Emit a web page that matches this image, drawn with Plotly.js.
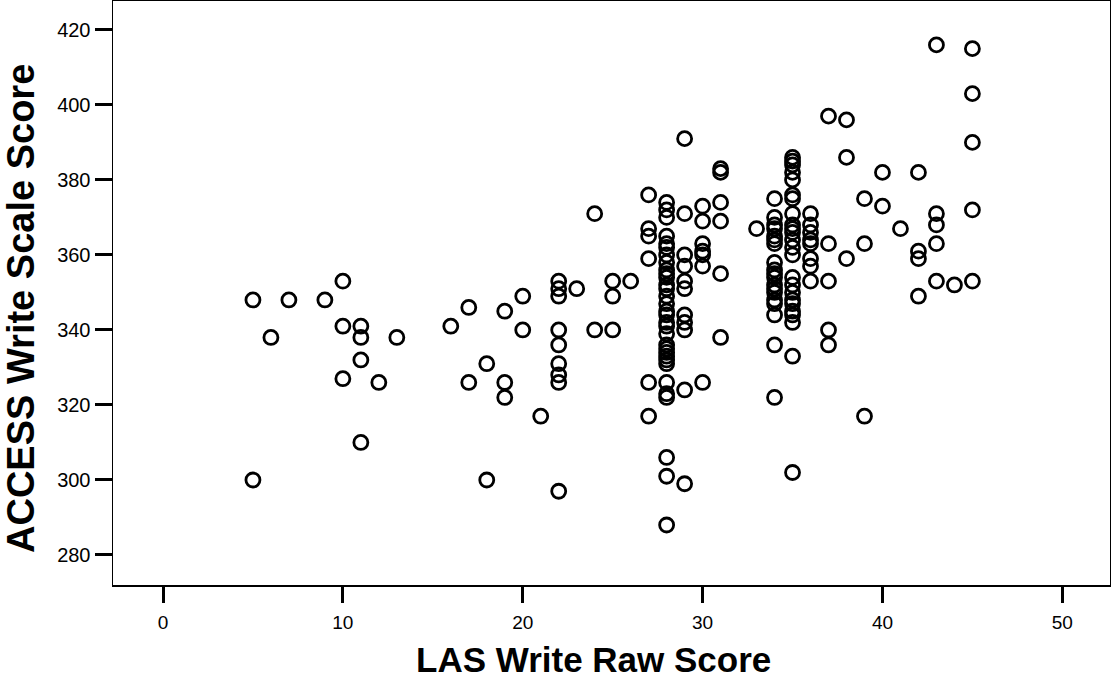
<!DOCTYPE html>
<html>
<head>
<meta charset="utf-8">
<script src="https://cdn.plot.ly/plotly-3.0.1.min.js"></script>
<style>
  html, body { margin: 0; padding: 0; background: #ffffff; }
  #chart { width: 1111px; height: 681px; }
</style>
</head>
<body>
<div id="chart"></div>
<script>
// LAS Write Raw Score (x) and ACCESS Write Scale Score (y), one pair per student
const lasRaw = [
  5, 5,
  6,
  7,
  9,
  10, 10, 10,
  11, 11, 11, 11,
  12,
  13,
  16,
  17, 17,
  18, 18,
  19, 19, 19,
  20, 20,
  21,
  22, 22, 22, 22, 22, 22, 22, 22, 22,
  23,
  24, 24,
  25, 25, 25,
  26,
  27, 27, 27, 27, 27, 27,
  28, 28, 28, 28, 28, 28, 28, 28, 28, 28, 28, 28, 28, 28, 28, 28,
  28, 28, 28, 28, 28, 28, 28, 28, 28, 28, 28, 28, 28, 28, 28, 28,
  29, 29, 29, 29, 29, 29, 29, 29, 29, 29, 29,
  30, 30, 30, 30, 30, 30, 30,
  31, 31, 31, 31, 31, 31,
  33,
  34, 34, 34, 34, 34, 34, 34, 34, 34, 34, 34, 34, 34, 34, 34, 34, 34, 34, 34,
  35, 35, 35, 35, 35, 35, 35, 35, 35, 35, 35, 35,
  35, 35, 35, 35, 35, 35, 35, 35, 35, 35, 35, 35,
  36, 36, 36, 36, 36, 36, 36, 36,
  37, 37, 37, 37, 37,
  38, 38, 38,
  39, 39, 39,
  40, 40,
  41,
  42, 42, 42, 42,
  43, 43, 43, 43, 43,
  44,
  45, 45, 45, 45, 45
];
const accessScale = [
  348, 300,
  338,
  348,
  348,
  353, 341, 327,
  341, 338, 332, 310,
  326,
  338,
  341,
  346, 326,
  331, 300,
  345, 326, 322,
  349, 340,
  317,
  353, 351, 349, 340, 336, 331, 328, 326, 297,
  351,
  371, 340,
  353, 349, 340,
  353,
  376, 367, 365, 359, 326, 317,
  374, 372, 370, 365, 363, 362, 360, 358, 356, 355, 354, 352, 351, 349, 347, 345,
  344, 342, 341, 339, 336, 335, 334, 333, 332, 331, 326, 323, 322, 306, 301, 288,
  391, 371, 360, 357, 353, 351, 344, 342, 340, 324, 299,
  373, 369, 363, 361, 360, 357, 326,
  383, 382, 374, 369, 355, 338,
  367,
  375, 370, 368, 367, 365, 364, 363, 358, 356, 355, 354, 352, 351, 350, 348, 347, 344, 336, 322,
  386, 385, 384, 382, 380, 376, 375, 371, 368, 367, 366, 364,
  362, 360, 354, 352, 350, 348, 347, 345, 344, 342, 333, 302,
  371, 368, 366, 364, 363, 359, 357, 353,
  397, 363, 353, 340, 336,
  396, 386, 359,
  375, 363, 317,
  382, 373,
  367,
  382, 361, 359, 349,
  416, 371, 368, 363, 353,
  352,
  415, 403, 390, 372, 353
];
const xTickValues = [0, 10, 20, 30, 40, 50];
const yTickValues = [280, 300, 320, 340, 360, 380, 400, 420];
const xTitle = 'LAS Write Raw Score';
const yTitle = 'ACCESS Write Scale Score';

const trace = {
  type: 'scatter',
  mode: 'markers',
  x: lasRaw,
  y: accessScale,
  marker: {
    symbol: 'circle-open',
    size: 14,
    color: '#000000',
    line: { color: '#000000', width: 2.8 }
  },
  hoverinfo: 'x+y'
};

const fontFam = '"Liberation Sans", Arial, Helvetica, sans-serif';

const layout = {
  width: 1111,
  height: 681,
  margin: { l: 113, r: 1, t: 1, b: 96, pad: 0 },
  paper_bgcolor: '#ffffff',
  plot_bgcolor: '#ffffff',
  showlegend: false,
  font: { family: fontFam, color: '#000000' },
  xaxis: {
    range: [-2.78, 52.65],
    tickmode: 'array',
    tickvals: xTickValues,
    ticktext: xTickValues.map(String),
    ticks: 'outside',
    ticklen: 16,
    tickwidth: 3,
    tickcolor: '#000000',
    ticklabelstandoff: 4,
    showgrid: false,
    zeroline: false,
    showline: true,
    mirror: true,
    linecolor: '#000000',
    linewidth: 1.5,
    tickfont: { family: fontFam, size: 19, color: '#000000' }
  },
  yaxis: {
    range: [272, 427.7],
    tickmode: 'array',
    tickvals: yTickValues,
    ticktext: yTickValues.map(String),
    ticks: 'outside',
    ticklen: 17,
    tickwidth: 3,
    tickcolor: '#000000',
    showgrid: false,
    zeroline: false,
    showline: true,
    mirror: true,
    linecolor: '#000000',
    linewidth: 1.5,
    tickfont: { family: fontFam, size: 20, color: '#000000' }
  },
  annotations: [
    {
      text: '<b>' + xTitle + '</b>',
      xref: 'paper', yref: 'paper',
      x: (593 - 113) / 997, y: -(659 - 585) / 584,
      xanchor: 'center', yanchor: 'middle',
      showarrow: false,
      font: { family: fontFam, size: 35, color: '#000000' }
    },
    {
      text: '<b>' + yTitle + '</b>',
      xref: 'paper', yref: 'paper',
      x: -(113 - 21) / 997, y: (585 - 309) / 584,
      xanchor: 'center', yanchor: 'middle',
      textangle: -90,
      showarrow: false,
      font: { family: fontFam, size: 38, color: '#000000' }
    }
  ]
};

Plotly.newPlot('chart', [trace], layout, { displayModeBar: false, staticPlot: true });
</script>
</body>
</html>
